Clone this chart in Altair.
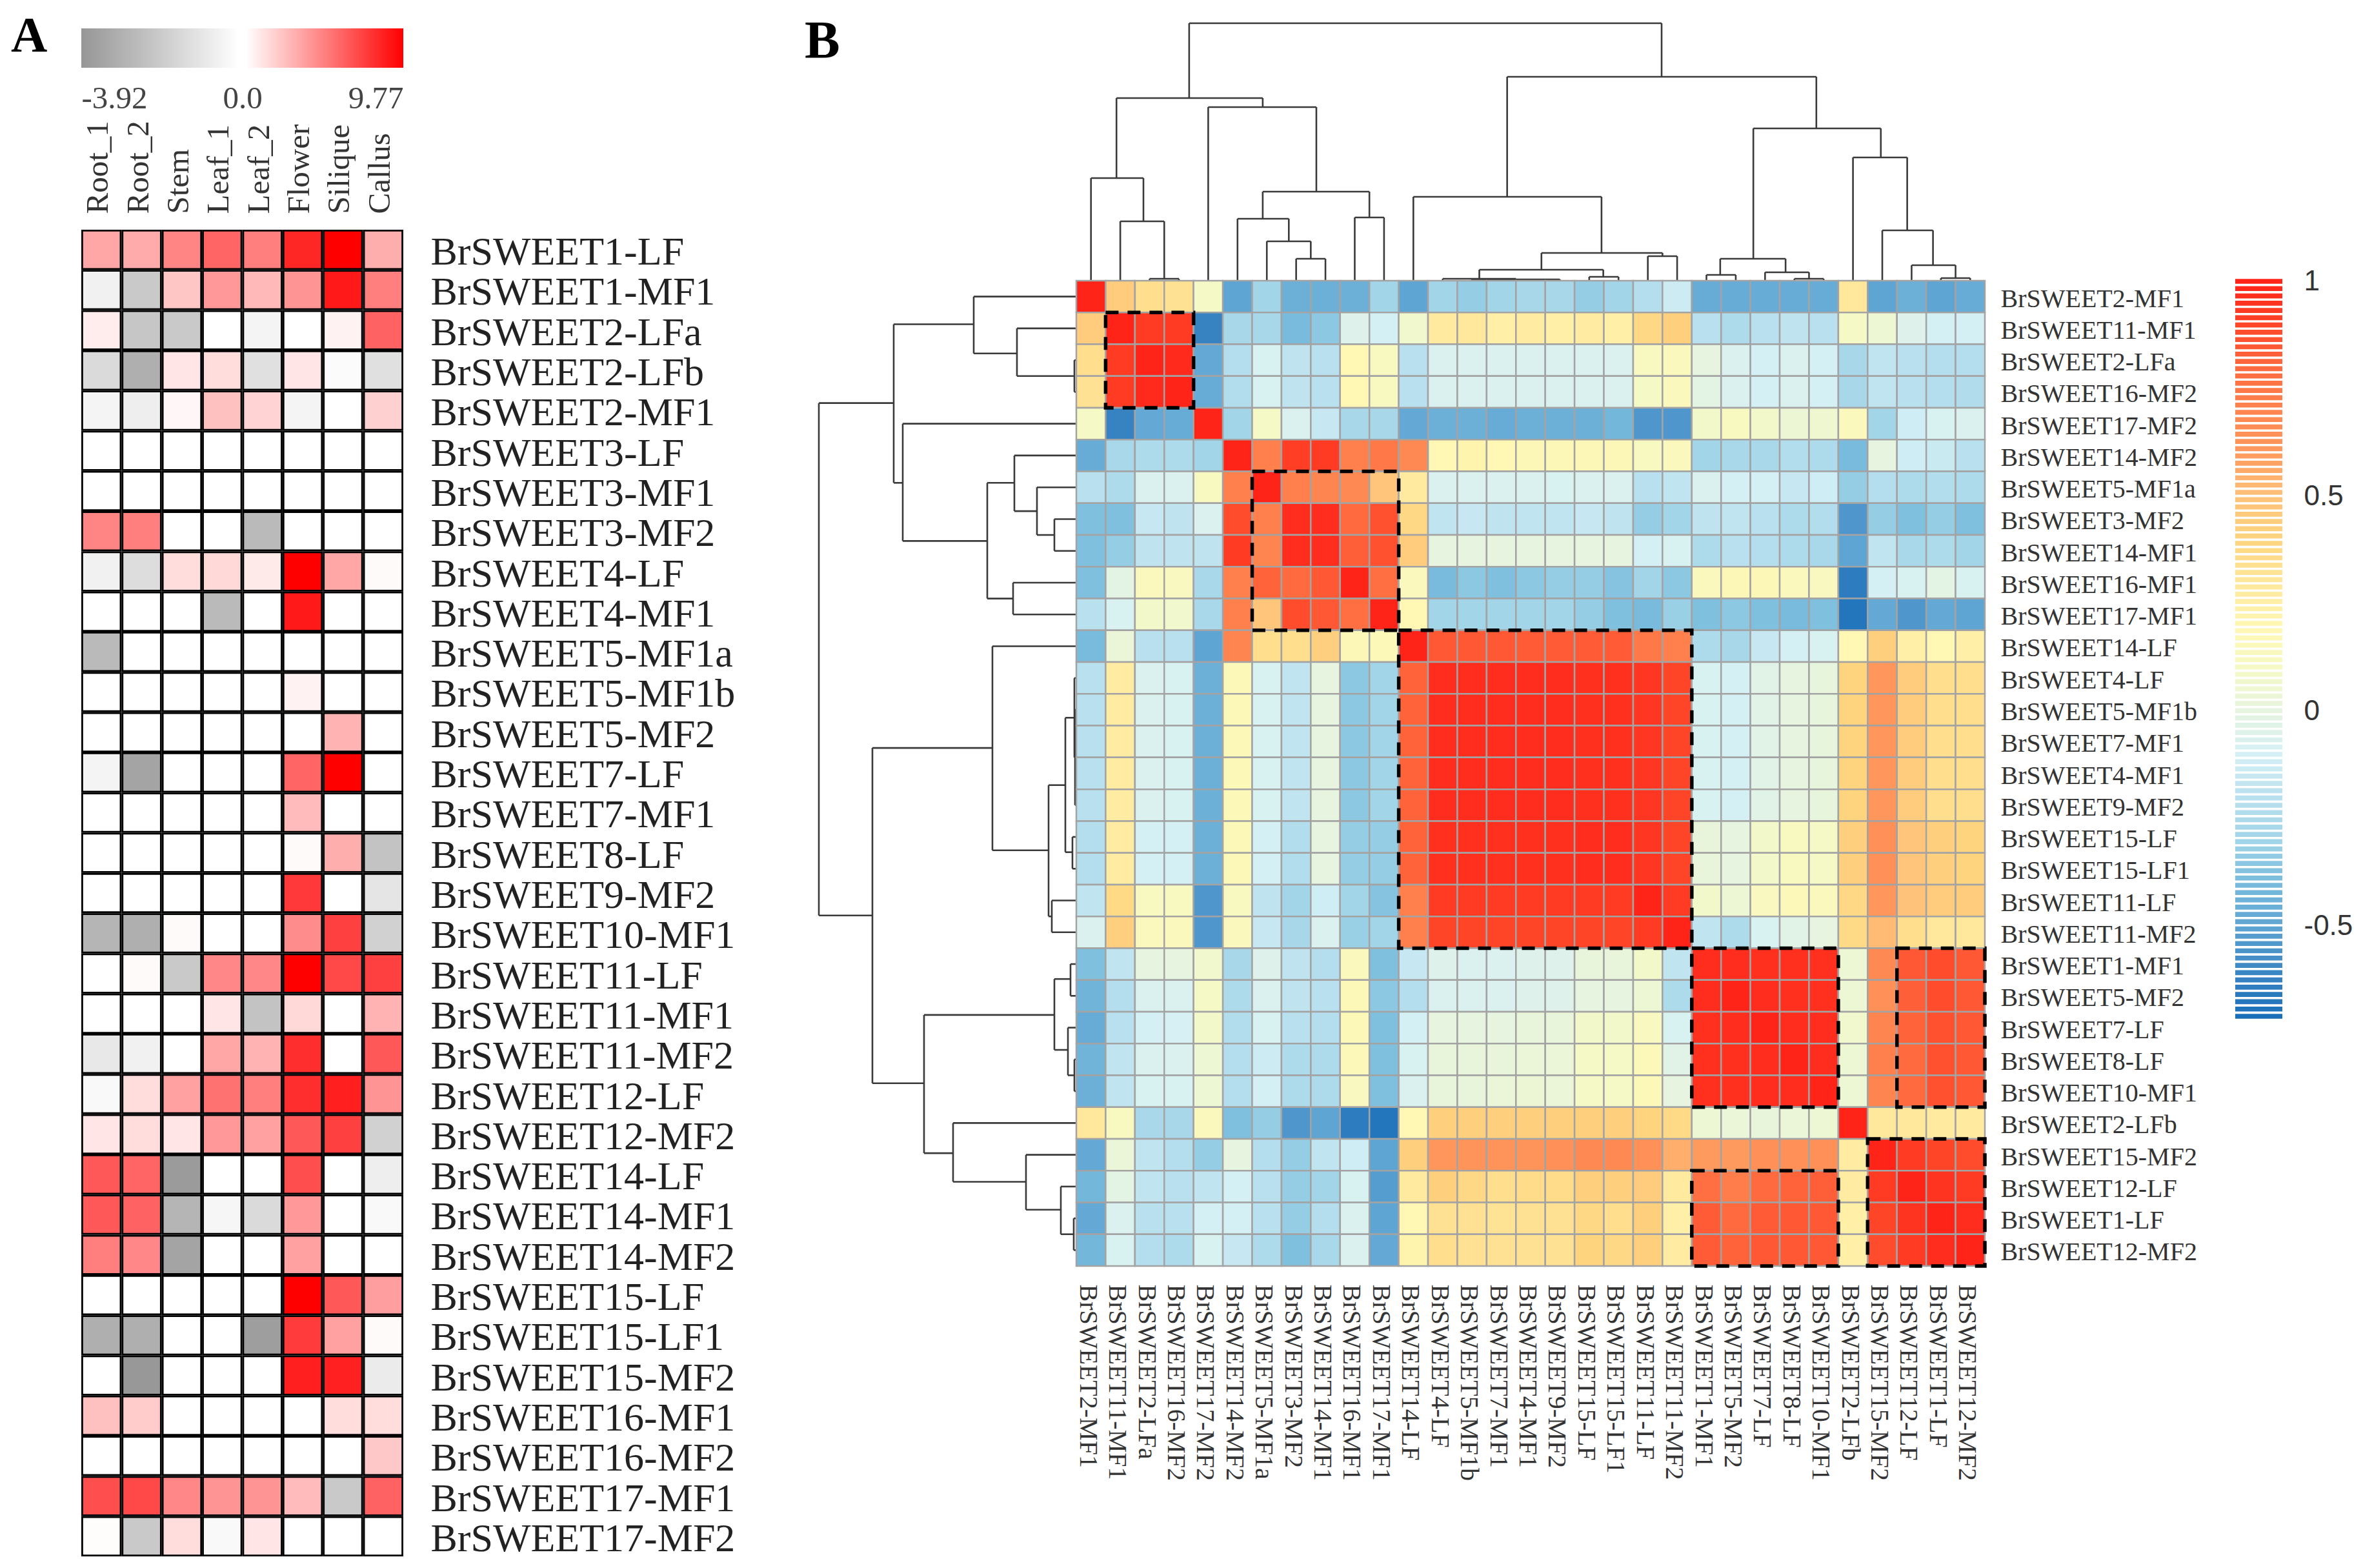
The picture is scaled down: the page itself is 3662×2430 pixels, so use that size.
import altair as alt
import pandas as pd
import numpy as np

W, H = 3646, 2414
M = 8  # page margin

tissues = ["Root_1", "Root_2", "Stem", "Leaf_1", "Leaf_2", "Flower", "Silique", "Callus"]
genes_a = ["BrSWEET1-LF", "BrSWEET1-MF1", "BrSWEET2-LFa", "BrSWEET2-LFb", "BrSWEET2-MF1", "BrSWEET3-LF",
           "BrSWEET3-MF1", "BrSWEET3-MF2", "BrSWEET4-LF", "BrSWEET4-MF1", "BrSWEET5-MF1a", "BrSWEET5-MF1b",
           "BrSWEET5-MF2", "BrSWEET7-LF", "BrSWEET7-MF1", "BrSWEET8-LF", "BrSWEET9-MF2", "BrSWEET10-MF1",
           "BrSWEET11-LF", "BrSWEET11-MF1", "BrSWEET11-MF2", "BrSWEET12-LF", "BrSWEET12-MF2", "BrSWEET14-LF",
           "BrSWEET14-MF1", "BrSWEET14-MF2", "BrSWEET15-LF", "BrSWEET15-LF1", "BrSWEET15-MF2", "BrSWEET16-MF1",
           "BrSWEET16-MF2", "BrSWEET17-MF1", "BrSWEET17-MF2"]
expr = [
    [3.4, 3.2, 4.7, 5.9, 4.9, 8.3, 9.77, 3.1],
    [-.5, -1.9, 2.2, 3.9, 2.7, 4.1, 8.8, 4.9],
    [.7, -2.0, -1.9, 0, -.4, 0, .5, 6.0],
    [-1.3, -2.8, 1.0, 1.3, -1.1, 1.0, -.15, -1.1],
    [-.4, -.6, .3, 2.4, 1.7, -.4, 0, 1.8],
    [0, 0, 0, 0, 0, 0, 0, 0],
    [0, 0, 0, 0, 0, 0, 0, 0],
    [4.7, 4.9, 0, 0, -2.4, 0, 0, 0],
    [-.5, -1.2, 1.3, 1.5, .8, 9.77, 3.4, .2],
    [0, 0, 0, -2.4, 0, 8.8, 0, 0],
    [-2.4, 0, 0, 0, 0, 0, 0, 0],
    [0, 0, 0, 0, 0, .5, 0, 0],
    [0, 0, 0, 0, 0, 0, 2.9, 0],
    [-.4, -3.2, 0, 0, 0, 5.9, 9.77, 0],
    [0, 0, 0, 0, 0, 2.6, 0, 0],
    [0, 0, 0, 0, 0, .2, 3.1, -2.1],
    [0, 0, 0, 0, 0, 7.6, 0, -.9],
    [-2.6, -2.8, .2, 0, 0, 4.4, 7.3, -1.6],
    [0, .2, -1.9, 4.6, 4.6, 9.77, 7.0, 7.3],
    [0, 0, 0, 1.0, -2.1, 1.5, 0, 2.9],
    [-.8, -.5, 0, 3.4, 2.9, 8.0, 0, 6.4],
    [-.2, 1.3, 3.6, 5.4, 4.9, 8.0, 8.6, 4.1],
    [1.0, 1.3, 1.0, 3.9, 3.6, 6.4, 7.3, -1.6],
    [6.4, 5.9, -3.5, 0, 0, 6.8, 0, -.6],
    [6.4, 6.0, -2.6, -.3, -1.3, 3.9, 0, -.2],
    [4.9, 4.6, -3.2, 0, 0, 3.6, 0, 0],
    [0, 0, 0, 0, 0, 9.77, 6.4, 3.7],
    [-2.8, -2.8, 0, 0, -3.4, 7.5, 3.6, .2],
    [0, -3.6, 0, 0, 0, 8.6, 8.5, -.7],
    [2.4, 2.0, 0, 0, 0, 0, 1.3, 1.3],
    [0, 0, 0, 0, 0, 0, 0, 2.1],
    [6.8, 7.0, 4.6, 4.1, 4.1, 2.6, -1.9, 6.0],
    [.1, -1.9, 1.3, -.2, 1.0, 0, 0, 0],
]

genes_b = ["BrSWEET2-MF1", "BrSWEET11-MF1", "BrSWEET2-LFa", "BrSWEET16-MF2", "BrSWEET17-MF2", "BrSWEET14-MF2",
           "BrSWEET5-MF1a", "BrSWEET3-MF2", "BrSWEET14-MF1", "BrSWEET16-MF1", "BrSWEET17-MF1", "BrSWEET14-LF",
           "BrSWEET4-LF", "BrSWEET5-MF1b", "BrSWEET7-MF1", "BrSWEET4-MF1", "BrSWEET9-MF2", "BrSWEET15-LF",
           "BrSWEET15-LF1", "BrSWEET11-LF", "BrSWEET11-MF2", "BrSWEET1-MF1", "BrSWEET5-MF2", "BrSWEET7-LF",
           "BrSWEET8-LF", "BrSWEET10-MF1", "BrSWEET2-LFb", "BrSWEET15-MF2", "BrSWEET12-LF", "BrSWEET1-LF",
           "BrSWEET12-MF2"]
corr = [
    [1, .45, .35, .33, .1, -.5, -.3, -.45, -.45, -.45, -.3, -.5, -.3, -.33, -.3, -.28, -.28, -.33, -.3, -.22, -.13, -.47, -.47, -.47, -.47, -.47, .3, -.5, -.45, -.5, -.47],
    [.45, 1, .93, .93, -.62, -.28, -.28, -.4, -.35, -.05, -.1, .07, .28, .3, .25, .27, .25, .27, .25, .38, .42, -.2, -.25, -.2, -.18, -.2, .1, .05, -.05, -.1, -.1],
    [.35, .93, 1, .98, -.48, -.22, -.08, -.18, -.2, .2, .12, -.2, -.07, -.07, -.07, -.07, -.07, -.07, -.07, .12, .15, -.0, -.07, -.1, -.07, -.1, -.28, -.17, -.2, -.22, -.22],
    [.33, .93, .98, 1, -.47, -.23, -.08, -.18, -.2, .2, .12, -.2, -.07, -.07, -.07, -.07, -.07, -.07, -.07, .1, .15, -.02, -.07, -.1, -.07, -.1, -.28, -.17, -.2, -.22, -.24],
    [.1, -.62, -.48, -.47, 1, -.3, .1, -.07, -.15, -.28, -.28, -.48, -.45, -.45, -.47, -.45, -.45, -.45, -.42, -.55, -.55, .08, .12, .08, .04, .06, .15, -.3, -.12, -.08, -.07],
    [-.47, -.27, -.25, -.25, -.3, 1, .72, .92, .93, .72, .75, .68, .2, .22, .2, .18, .18, .18, .18, .12, .15, -.3, -.27, -.27, -.23, -.25, -.4, -.0, -.12, -.14, -.2],
    [-.2, -.25, -.07, -.07, .12, .72, 1, .72, .7, .68, .48, .28, -.07, -.07, -.07, -.07, -.08, -.07, -.07, -.2, -.17, -.07, -.1, -.1, -.15, -.12, -.33, -.22, -.25, -.23, -.25],
    [-.38, -.38, -.15, -.18, -.07, .88, .72, .97, .97, .8, .87, .38, -.17, -.15, -.18, -.17, -.17, -.15, -.18, -.33, -.3, -.18, -.17, -.2, -.25, -.23, -.55, -.33, -.38, -.33, -.38],
    [-.38, -.33, -.18, -.18, -.18, .93, .7, .97, .97, .83, .87, .45, .0, -.0, .0, -.0, .0, .0, -.0, -.1, -.08, -.25, -.2, -.22, -.25, -.27, -.5, -.17, -.27, -.25, -.3],
    [-.38, -.02, .15, .13, -.27, .72, .82, .8, .85, 1, .78, .15, -.4, -.35, -.38, -.35, -.33, -.33, -.37, -.3, -.35, .15, .18, .18, .15, .13, -.65, -.1, -.08, -.02, -.08],
    [-.2, -.08, .08, .07, -.27, .72, .48, .88, .85, .78, 1, .2, -.3, -.3, -.3, -.3, -.3, -.33, -.38, -.4, -.32, -.38, -.35, -.38, -.4, -.38, -.68, -.48, -.55, -.48, -.5],
    [-.4, .03, -.2, -.2, -.5, .7, .35, .35, .43, .18, .17, 1, .85, .85, .85, .84, .84, .84, .84, .75, .72, -.25, -.28, -.15, -.1, -.08, .2, .42, .25, .2, .25],
    [-.2, .27, -.07, -.08, -.45, .17, -.08, -.17, .0, -.35, -.3, .82, .97, .97, .97, .97, .97, .96, .96, .94, .9, -.08, -.1, -.03, .0, .01, .4, .62, .45, .35, .35],
    [-.2, .27, -.07, -.08, -.45, .17, -.08, -.17, .0, -.35, -.3, .82, .97, .97, .97, .97, .97, .96, .96, .94, .9, -.08, -.1, -.03, .0, .01, .4, .62, .45, .35, .35],
    [-.2, .27, -.07, -.08, -.45, .17, -.08, -.17, .0, -.35, -.3, .82, .97, .97, .97, .97, .97, .96, .96, .94, .9, -.08, -.1, -.03, .0, .01, .4, .62, .45, .35, .35],
    [-.2, .27, -.07, -.08, -.45, .17, -.08, -.17, .0, -.35, -.3, .82, .97, .97, .97, .97, .97, .96, .96, .94, .9, -.08, -.1, -.03, .0, .01, .4, .62, .45, .35, .35],
    [-.2, .27, -.07, -.08, -.45, .17, -.08, -.17, .0, -.35, -.3, .82, .97, .97, .97, .97, .97, .96, .96, .94, .9, -.08, -.1, -.03, .0, .01, .4, .62, .45, .35, .35],
    [-.22, .27, -.1, -.1, -.45, .17, -.1, -.23, -.0, -.33, -.33, .82, .96, .96, .96, .96, .96, .97, .97, .94, .9, .02, .0, .08, .12, .1, .42, .65, .48, .42, .4],
    [-.22, .27, -.1, -.1, -.45, .17, -.1, -.23, -.0, -.33, -.33, .82, .96, .96, .96, .96, .96, .97, .97, .94, .9, .02, .0, .08, .12, .1, .42, .65, .48, .42, .4],
    [-.17, .37, .12, .12, -.55, .12, -.18, -.3, -.12, -.3, -.37, .72, .93, .93, .93, .93, .93, .93, .93, 1, .93, .08, .05, .13, .16, .15, .38, .62, .5, .45, .45],
    [-.07, .43, .15, .15, -.55, .15, -.15, -.28, -.07, -.32, -.3, .72, .9, .9, .9, .9, .9, .9, .9, .93, 1, -.17, -.25, -.08, -.03, .0, .37, .52, .35, .3, .3],
    [-.38, -.17, .0, .0, .07, -.28, -.05, -.18, -.22, .15, -.38, -.15, -.05, -.07, -.07, -.05, -.05, .02, .02, .08, -.17, .97, .97, .96, .96, .96, .05, .68, .85, .88, .85],
    [-.43, -.22, -.07, -.07, .1, -.25, -.07, -.18, -.2, .17, -.35, -.22, -.07, -.07, -.07, -.05, -.05, .0, .0, .05, -.25, .97, 1, .97, .96, .96, .05, .65, .83, .88, .85],
    [-.47, -.2, -.1, -.09, .08, -.23, -.08, -.2, -.22, .17, -.38, -.1, .0, .0, .0, .02, .02, .08, .08, .13, -.08, .96, .97, 1, .97, .97, .07, .7, .82, .87, .85],
    [-.43, -.17, -.07, -.07, .05, -.22, -.13, -.25, -.25, .16, -.38, -.08, .02, .02, .02, .03, .03, .1, .1, .16, -.03, .96, .96, .97, 1, .97, .05, .72, .8, .87, .85],
    [-.45, -.17, -.08, -.08, .05, -.22, -.1, -.25, -.25, .13, -.38, -.07, .02, .02, .03, .04, .03, .1, .1, .17, .0, .96, .96, .97, .97, 1, .05, .7, .8, .87, .85],
    [.3, .12, -.27, -.28, .15, -.38, -.33, -.55, -.5, -.65, -.68, .2, .42, .42, .42, .42, .42, .42, .42, .4, .37, .05, .03, .02, .03, .05, 1, .3, .3, .28, .28],
    [-.48, .03, -.17, -.22, -.33, .0, -.22, -.33, -.17, -.12, -.5, .42, .62, .63, .63, .63, .65, .68, .68, .65, .55, .6, .6, .65, .65, .65, .27, 1, .93, .9, .88],
    [-.42, -.02, -.17, -.2, -.17, -.1, -.2, -.33, -.3, -.08, -.53, .28, .42, .38, .35, .36, .36, .42, .42, .45, .28, .78, .73, .8, .82, .83, .27, .93, 1, .95, .93],
    [-.48, -.07, -.2, -.2, -.1, -.1, -.2, -.33, -.22, -.07, -.5, .2, .33, .33, .32, .33, .33, .38, .35, .42, .25, .84, .8, .84, .85, .85, .25, .9, .95, 1, .97],
    [-.42, -.08, -.22, -.25, -.08, -.15, -.25, -.38, -.27, -.07, -.48, .22, .35, .33, .33, .33, .33, .4, .38, .42, .27, .84, .82, .85, .85, .85, .25, .88, .93, .97, 1],
]
assert all(len(r) == 31 for r in corr) and len(corr) == 31

# dendrogram merges: left position, right position, height, height of left child, height of right child
merges = [
    (3.85, 19.97, 399, 283, 316), (1.37, 6.36, 283, 159, 269), (4.5, 8.19, 269, 0, 138), (.5, 2.29, 159, 0, 92),
    (1.5, 3.0, 92, 0, 3), (2.5, 3.5, 3, 0, 0), (6.36, 10.0, 138, 96, 98), (5.5, 7.25, 96, 0, 61),
    (6.5, 8.0, 61, 0, 34), (7.5, 8.5, 34, 0, 0), (9.5, 10.5, 98, 0, 0), (14.7, 25.25, 316, 130, 236),
    (11.5, 17.92, 130, 0, 43), (15.87, 20.0, 43, 17, 38), (13.75, 17.98, 17, 3, 6), (12.5, 15.0, 3, 0, 2),
    (13.5, 16.5, 2, 0, 0), (17.5, 18.5, 6, 0, 0), (19.5, 20.5, 38, 0, 0), (23.1, 27.45, 236, 34, 191),
    (21.97, 24.2, 34, 9, 13), (21.5, 22.5, 9, 0, 0), (23.5, 25.0, 13, 0, 3), (24.5, 25.5, 3, 0, 0),
    (26.5, 28.35, 191, 0, 78), (27.5, 29.23, 78, 0, 24), (28.5, 30.0, 24, 0, 4), (29.5, 30.5, 4, 0, 0),
]
# dashed boxes: first column, last column edge, first row, last row edge
boxes = [(1, 4, 1, 4), (6, 11, 6, 11), (11, 21, 11, 21), (21, 26, 21, 26), (28, 31, 21, 26), (27, 31, 27, 31), (21, 26, 28, 31)]

corr_stops = [-.71, -.6, -.5, -.4, -.3, -.2, -.1, 0, .1, .2, .3, .4, .5, .6, .7, .8, .9, 1]
corr_colors = ["#1a6fb9", "#3d87c4", "#5fa5d3", "#78bbdd", "#a2d5e8", "#b9e0ee", "#d5f0f5", "#e6f4e0", "#f5f9c5",
               "#fff7b3", "#ffe79b", "#fed47f", "#ffc27a", "#ff9a5e", "#ff8550", "#ff6a3f", "#ff4528", "#ff2318"]
ticks_b = [1, .5, 0, -.5]
ticks_a = [-3.92, 0, 9.77]

# layout of the reference, in page pixels
ax0, ax1, ay0, ay1 = 126, 625, 356, 2412
bx0, bx1, by0, by1 = 1668, 3076, 435, 1962
lx0, lx1, ly0, ly1 = 3464, 3537, 436, 1575

SERIF = "Liberation Serif"
SANS = "Liberation Sans"


def common_axis(**k):
    base = dict(title=None, grid=False, ticks=False, domain=False, labelOverlap=False, labelLimit=2000,
                labelBound=False, labelFlush=False)
    base.update(k)
    return alt.Axis(**base)


a_df = pd.DataFrame([{"gene": g, "tissue": t, "v": expr[i][j]} for i, g in enumerate(genes_a) for j, t in enumerate(tissues)])
heat_a_grid = alt.Chart(a_df).mark_rect(color="#000000").encode(
    x=alt.X("tissue:N", sort=tissues, axis=None, scale=alt.Scale(domain=tissues, range=[ax0 - M, ax1 - M], paddingInner=0, paddingOuter=0)),
    y=alt.Y("gene:N", sort=genes_a, axis=None, scale=alt.Scale(domain=genes_a, range=[ay0 - M, ay1 - M], paddingInner=0, paddingOuter=0)),
)
heat_a = alt.Chart(a_df).mark_rect().encode(
    x=alt.X("tissue:N", sort=tissues, scale=alt.Scale(domain=tissues, range=[ax0 - M, ax1 - M], paddingInner=.09, paddingOuter=.045),
            axis=common_axis(orient="top", offset=-(ay0 - M), labelAngle=270, labelAlign="left", labelBaseline="middle",
                             labelPadding=25, labelOffset=-5, labelFont=SERIF, labelFontSize=49, labelColor="#333333")),
    y=alt.Y("gene:N", sort=genes_a, scale=alt.Scale(domain=genes_a, range=[ay0 - M, ay1 - M], paddingInner=.09, paddingOuter=.045),
            axis=common_axis(orient="right", offset=(ax1 - M) - W, labelPadding=42, labelOffset=4, labelFont=SERIF, labelFontSize=62,
                             labelColor="#222222")),
    color=alt.Color("v:Q", legend=None, scale=alt.Scale(domain=[-3.92, 0, 9.77], range=["#8f8f8f", "#ffffff", "#ff0000"], interpolate="rgb")),
)

leg_a = alt.Chart(alt.Data(values=[{"lo": ticks_a[0], "hi": ticks_a[-1]}])).mark_rect(
    fill=alt.LinearGradient(gradient="linear", x1=0, x2=1, y1=0, y2=0, stops=[
        alt.GradientStop(color="#969696", offset=0), alt.GradientStop(color="#ffffff", offset=.49),
        alt.GradientStop(color="#ffffff", offset=.51), alt.GradientStop(color="#ff0000", offset=1)])
).encode(
    x=alt.X("lo:Q", scale=alt.Scale(domain=ticks_a, range=[ax0 - M, (ax0 + ax1) / 2 - M, ax1 - M]),
            axis=common_axis(orient="bottom", offset=(105 - M) - H, values=ticks_a, labelFlush=True, labelPadding=23,
                             labelFont=SERIF, labelFontSize=49, labelColor="#444444",
                             labelExpr="datum.value == 0 ? '0.0' : replace(format(datum.value, '.2f'), '\u2212', '-')")),
    x2="hi:Q",
    y=alt.value(44 - M), y2=alt.value(105 - M),
)

b_df = pd.DataFrame([{"row": r, "col": c, "v": corr[i][j]} for i, r in enumerate(genes_b) for j, c in enumerate(genes_b)])
corr_scale = alt.Scale(domain=corr_stops, range=corr_colors, clamp=True, interpolate="rgb")
heat_b = alt.Chart(b_df).mark_rect(stroke="#a3a3a3", strokeWidth=2.5).encode(
    x=alt.X("col:N", sort=genes_b, scale=alt.Scale(domain=genes_b, range=[bx0 - M, bx1 - M], paddingInner=0, paddingOuter=0),
            axis=common_axis(orient="bottom", offset=(by1 - M) - H, labelAngle=90, labelAlign="left", labelBaseline="middle",
                             labelPadding=28, labelOffset=-5, labelFont=SERIF, labelFontSize=40, labelColor="#333333")),
    y=alt.Y("row:N", sort=genes_b, scale=alt.Scale(domain=genes_b, range=[by0 - M, by1 - M], paddingInner=0, paddingOuter=0),
            axis=common_axis(orient="right", offset=(bx1 - M) - W, labelPadding=24, labelOffset=4, labelFont=SERIF, labelFontSize=40,
                             labelColor="#333333")),
    color=alt.Color("v:Q", legend=None, scale=corr_scale),
)

box_df = pd.DataFrame(boxes, columns=["c0", "c1", "r0", "r1"])
box_layer = alt.Chart(box_df).mark_rect(fillOpacity=0, stroke="#000000", strokeWidth=5.5, strokeDash=[20, 14]).encode(
    x=alt.X("c0:Q", axis=None, scale=alt.Scale(domain=[0, 31], range=[bx0 - M, bx1 - M])), x2="c1:Q",
    y=alt.Y("r0:Q", axis=None, scale=alt.Scale(domain=[0, 31], range=[by0 - M, by1 - M])), y2="r1:Q",
)

segments = []
for left, right, h, hl, hr in merges:
    segments.append({"p0": left, "p1": right, "h0": h, "h1": h})
    segments.append({"p0": left, "p1": left, "h0": hl, "h1": h})
    segments.append({"p0": right, "p1": right, "h0": hr, "h1": h})
seg_df = pd.DataFrame(segments)
line_style = dict(color="#3a3a3a", strokeWidth=2.6)
top_tree = alt.Chart(seg_df).mark_rule(**line_style).encode(
    x=alt.X("p0:Q", axis=None, scale=alt.Scale(domain=[0, 31], range=[bx0 - M, bx1 - M])), x2="p1:Q",
    y=alt.Y("h0:Q", axis=None, scale=alt.Scale(domain=[0, 400], range=[by0 - M, by0 - 400 - M])), y2="h1:Q",
)
left_tree = alt.Chart(seg_df).mark_rule(**line_style).encode(
    y=alt.Y("p0:Q", axis=None, scale=alt.Scale(domain=[0, 31], range=[by0 - M, by1 - M])), y2="p1:Q",
    x=alt.X("h0:Q", axis=None, scale=alt.Scale(domain=[0, 400], range=[bx0 - M, bx0 - 400 - M])), x2="h1:Q",
)

# colour key of panel B: separate stripes with pale gaps
key_levels = np.linspace(corr_stops[0], 1, 102)
key_step = key_levels[1] - key_levels[0]
key_df = pd.DataFrame({"v": key_levels, "v0": key_levels - key_step * .34, "v1": key_levels + key_step * .34})
key = alt.Chart(key_df).mark_rect().encode(
    y=alt.Y("v0:Q", scale=alt.Scale(domain=[corr_stops[0], 1], range=[ly1 - M, ly0 - M]),
            axis=common_axis(orient="right", offset=(lx1 - M) - W, values=ticks_b, labelPadding=33, labelFont=SANS,
                             labelFontSize=44, labelColor="#333333", labelExpr="datum.value")),
    y2="v1:Q",
    x=alt.value(lx0 - M), x2=alt.value(lx1 - M),
    color=alt.Color("v:Q", legend=None, scale=corr_scale),
)

letter_a = alt.Chart(alt.Data(values=[{"t": "A"}])).mark_text(
    font=SERIF, fontWeight="bold", fontSize=78, align="left", baseline="alphabetic", color="#000000"
).encode(x=alt.value(17 - M), y=alt.value(80 - M), text="t:N")
letter_b = alt.Chart(alt.Data(values=[{"t": "B"}])).mark_text(
    font=SERIF, fontWeight="bold", fontSize=82, align="left", baseline="alphabetic", color="#000000"
).encode(x=alt.value(1247 - M), y=alt.value(89 - M), text="t:N")

chart = alt.layer(
    heat_a_grid, heat_a, leg_a, top_tree, left_tree, heat_b, box_layer, key, letter_a, letter_b
).resolve_scale(x="independent", y="independent", color="independent").properties(
    width=W, height=H, padding=0, autosize=alt.AutoSizeParams(type="none"), background="#ffffff"
).configure_view(stroke=None)

chart.save("out.html", embed_options={"renderer": "svg", "actions": False})
